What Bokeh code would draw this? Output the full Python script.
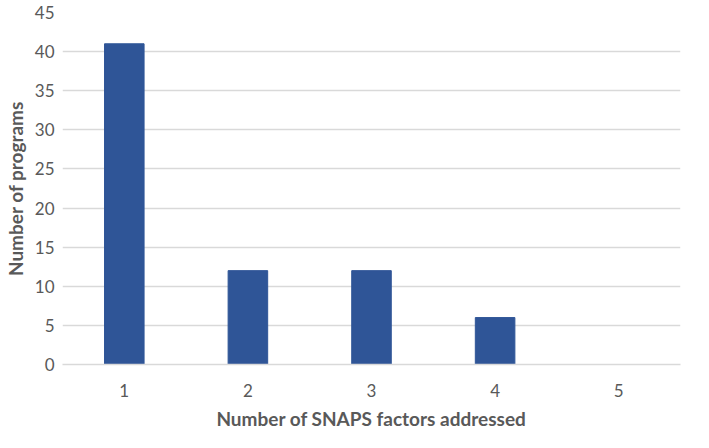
from bokeh.plotting import figure
from bokeh.models import Range1d, FixedTicker
from bokeh.embed import file_html
from bokeh.resources import INLINE

factors = ["1", "2", "3", "4", "5"]
programs = [41, 12, 12, 6, 0]
y_ticks = [0, 5, 10, 15, 20, 25, 30, 35, 40, 45]

p = figure(x_range=factors, y_range=Range1d(0, 45), width=693, height=432,
           output_backend="svg", toolbar_location=None,
           min_border_left=61, min_border_right=13, min_border_top=12, min_border_bottom=67)
p.vbar(x=factors, top=programs, width=0.32, color="#2F5597")

p.outline_line_color = None
p.xgrid.grid_line_color = None
p.ygrid.grid_line_color = "#D9D9D9"
p.ygrid.grid_line_width = 1.3
p.yaxis.ticker = FixedTicker(ticks=y_ticks)

for ax in (p.xaxis, p.yaxis):
    ax.axis_line_color = None
    ax.major_tick_line_color = None
    ax.minor_tick_line_color = None
    ax.major_tick_out = 0
    ax.major_tick_in = 0
    ax.minor_tick_out = 0
    ax.major_label_text_color = "#595959"
    ax.major_label_text_font = "Lato"
    ax.major_label_text_font_size = "17px"
    ax.axis_label_text_color = "#595959"
    ax.axis_label_text_font = "Lato"
    ax.axis_label_text_font_size = "19px"
    ax.axis_label_text_font_style = "bold"

p.xaxis.axis_line_color = "#D9D9D9"
p.xaxis.axis_line_width = 1.3
p.xaxis.major_label_standoff = 19
p.yaxis.major_label_standoff = 8
p.xaxis.axis_label = "Number of SNAPS factors addressed"
p.yaxis.axis_label = "Number of programs"
p.xaxis.axis_label_standoff = 7
p.yaxis.axis_label_standoff = 5

open("out.html", "w").write(file_html(p, INLINE))
